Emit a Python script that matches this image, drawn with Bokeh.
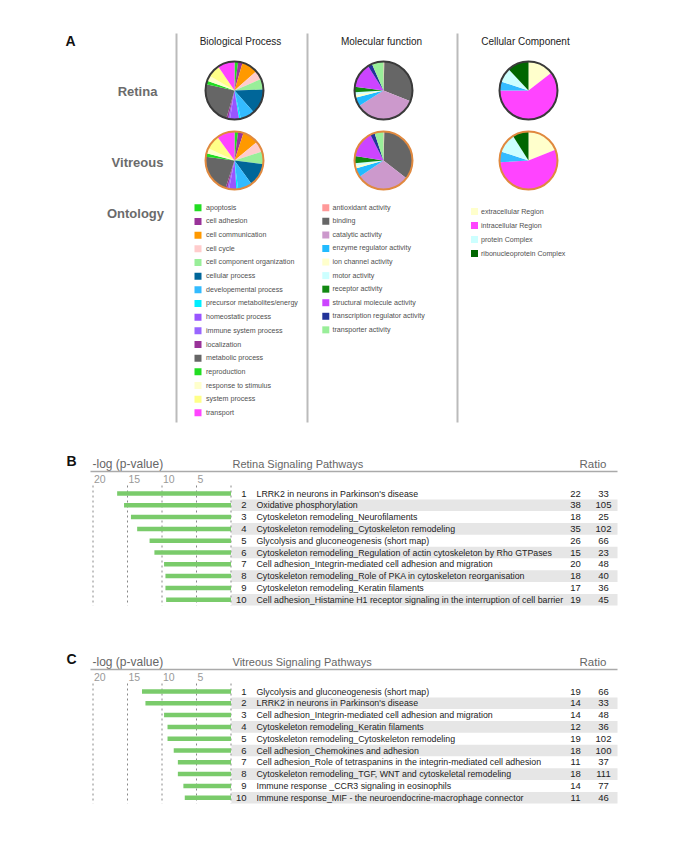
import numpy as np
from bokeh.plotting import figure
from bokeh.models import Range1d
from bokeh.embed import file_html
from bokeh.resources import INLINE
from bokeh.core.properties import value

# ---------------- data ----------------
bp_labels = ["apoptosis", "cell adhesion", "cell communication", "cell cycle",
             "cell component organization", "cellular process", "developemental process",
             "precursor metabolites/energy", "homeostatic process", "immune system process",
             "localization", "metabolic process", "reproduction", "response to stimulus",
             "system process", "transport"]
bp_colors = ["#22dd22", "#993399", "#ff9900", "#ffcccc", "#99ee99", "#006699", "#33bbff",
             "#00eeff", "#9955ff", "#9966ff", "#993399", "#666666", "#22dd22", "#ffffcc",
             "#ffff88", "#ff44ff"]
bp_retina = [2, 2.5, 9, 5, 6, 14, 8, 1, 5, 1, 1, 24, 2, 3, 7, 9.5]
bp_vitreous = [2, 3, 9, 6, 7, 13, 8, 1, 4, 1, 1, 22, 2, 3, 8, 10]

mf_labels = ["antioxidant activity", "binding", "catalytic activity", "enzyme regulator activity",
             "ion channel activity", "motor activity", "receptor activity",
             "structural molecule activity", "transcription regulator activity",
             "transporter activity"]
mf_colors = ["#ff9999", "#666666", "#cc99cc", "#22bbff", "#ffffcc", "#ccffff", "#118811",
             "#cc44ff", "#223399", "#99ee99"]
mf_retina = [0.5, 30.5, 35, 5, 1.5, 1.5, 3, 14, 2.5, 6.5]
mf_vitreous = [0.5, 35, 30, 5, 1.5, 1.5, 4, 15, 2.5, 5]

cc_labels = ["extracellular Region", "intracellular Region", "protein Complex",
             "ribonucleoprotein Complex"]
cc_colors = ["#ffffcc", "#ff44ff", "#ccffff", "#006600"]
cc_slice_colors = ["#ffffcc", "#ff44ff", "#33bbff", "#ccffff", "#006600"]
cc_retina = [14.5, 60.5, 5, 8, 12]
cc_vitreous = [19, 55, 6, 11, 9]

ticks = [20, 15, 10, 5]

retina_paths = ["LRRK2 in neurons in Parkinson's disease",
                "Oxidative phosphorylation",
                "Cytoskeleton remodeling_Neurofilaments",
                "Cytoskeleton remodeling_Cytoskeleton remodeling",
                "Glycolysis and gluconeogenesis (short map)",
                "Cytoskeleton remodeling_Regulation of actin cytoskeleton by Rho GTPases",
                "Cell adhesion_Integrin-mediated cell adhesion and migration",
                "Cytoskeleton remodeling_Role of PKA in cytoskeleton reorganisation",
                "Cytoskeleton remodeling_Keratin filaments",
                "Cell adhesion_Histamine H1 receptor signaling in the interruption of cell barrier"]
retina_logp = [16.5, 15.5, 14.5, 13.6, 11.8, 11.1, 9.7, 9.5, 9.5, 9.4]
retina_r1 = [22, 38, 18, 35, 26, 15, 20, 18, 17, 19]
retina_r2 = [33, 105, 25, 102, 66, 23, 48, 40, 36, 45]

vitreous_paths = ["Glycolysis and gluconeogenesis (short map)",
                  "LRRK2 in neurons in Parkinson's disease",
                  "Cell adhesion_Integrin-mediated cell adhesion and migration",
                  "Cytoskeleton remodeling_Keratin filaments",
                  "Cytoskeleton remodeling_Cytoskeleton remodeling",
                  "Cell adhesion_Chemokines and adhesion",
                  "Cell adhesion_Role of tetraspanins in the integrin-mediated cell adhesion",
                  "Cytoskeleton remodeling_TGF, WNT and cytoskeletal remodeling",
                  "Immune response _CCR3 signaling in eosinophils",
                  "Immune response_MIF - the neuroendocrine-macrophage connector"]
vitreous_logp = [12.9, 12.4, 9.7, 9.2, 9.2, 8.3, 7.7, 7.7, 6.9, 6.7]
vitreous_r1 = [19, 14, 14, 12, 19, 18, 11, 18, 14, 11]
vitreous_r2 = [66, 33, 48, 36, 102, 100, 37, 111, 77, 46]

# ---------------- canvas ----------------
W, H = 667, 850
OX, OY = 0, 0
FONT = "Liberation Sans"
F = value(FONT)

# -log p scale: 20 -> x 92.5, 0 -> x 230.5
X0, PXU = 230.5, 6.9
p_range = Range1d(start=(X0 - OX) / PXU, end=(X0 - (OX + W)) / PXU)

p = figure(width=W, height=H, x_range=Range1d(OX, OX + W), y_range=Range1d(OY + H, OY),
           output_backend="svg", toolbar_location=None, min_border=0,
           x_axis_location=None, y_axis_location=None)
p.extra_x_ranges = {"logp": p_range}
p.grid.visible = False
p.outline_line_color = None
p.background_fill_color = "white"


def txt(x, y, s, size, color="#222222", align="left", style="normal", font=F, **kw):
    p.text(x=x if isinstance(x, list) else [x], y=y if isinstance(y, list) else [y],
           text=s if isinstance(s, list) else [s], text_font=font, text_font_size=size,
           text_color=color, text_align=align, text_baseline="middle",
           text_font_style=style, **kw)


# ---------------- panel A ----------------
txt(70, 40, "A", "14px", "#111111", "center", "bold")
for xl in [176, 307, 457]:
    p.segment(x0=[xl], y0=[33], x1=[xl], y1=[422], line_color="#bbbbbb", line_width=2)

txt([240, 381, 525], [41, 41, 41],
    ["Biological Process", "Molecular function", "Cellular Component"], "10px", "#222222", "center")
txt([137, 137, 135], [91, 162, 213], ["Retina", "Vitreous", "Ontology"], "13px", "#6b6b6b",
    "center", "bold")

R = 29


def pie(cx, cy, vals, colors, outline):
    v = np.array(vals, float)
    frac = np.cumsum(v) / v.sum()
    ends = np.pi / 2 - 2 * np.pi * frac
    starts = np.concatenate([[np.pi / 2], ends[:-1]])
    p.wedge(x=cx, y=cy, radius=R, start_angle=starts, end_angle=ends, direction="clock",
            fill_color=colors, line_color=None)
    p.circle(x=[cx], y=[cy], radius=R, fill_color=None, line_color=outline, line_width=2)


RET_OUT, VIT_OUT = "#3a3a3a", "#e0893f"
pie(234, 90, bp_retina, bp_colors, RET_OUT)
pie(234, 160, bp_vitreous, bp_colors, VIT_OUT)
pie(383, 90, mf_retina, mf_colors, RET_OUT)
pie(383, 160, mf_vitreous, mf_colors, VIT_OUT)
pie(528, 90, cc_retina, cc_slice_colors, RET_OUT)
pie(528, 160, cc_vitreous, cc_slice_colors, VIT_OUT)


def legend(sqx, tx, y0, dy, labels, colors):
    ys = [y0 + i * dy for i in range(len(labels))]
    p.rect(x=[sqx] * len(labels), y=ys, width=7, height=7, fill_color=colors, line_color=None)
    txt([tx] * len(labels), ys, labels, "7.1px", "#505050")


legend(197.5, 205.5, 207.3, 13.67, bp_labels, bp_colors)
legend(325.3, 332.0, 207.3, 13.56, mf_labels, mf_colors)
legend(474.0, 480.5, 211.0, 14.0, cc_labels, cc_colors)


# ---------------- panels B and C ----------------
def panel(top, letter, title, names, logp, r1, r2):
    row0, rh = top + 30, 11.8
    ys = [row0 + i * rh for i in range(len(names))]
    txt(71, top - 3, letter, "14px", "#111111", "center", "bold")
    txt(92, top, "-log (p-value)", "12px", "#666666")
    txt(232, top, title, "11px", "#666666")
    txt(579, top, "Ratio", "11.5px", "#666666")
    p.segment(x0=[90], y0=[top + 8], x1=[617], y1=[top + 8], line_color="#aaaaaa", line_width=1.5)
    txt(ticks, [top + 15] * len(ticks), [str(t) for t in ticks], "10.5px", "#999999",
        x_range_name="logp", x_offset=1)
    even = [y for i, y in enumerate(ys) if i % 2 == 1]
    p.hbar(y=even, left=231, right=617, height=11.6, fill_color="#e6e6e6", line_color=None)
    gl = ticks + [0]
    p.segment(x0=gl, y0=[top + 22] * len(gl), x1=gl, y1=[ys[-1] + 6] * len(gl),
              line_color="#888888", line_width=1, line_dash="2 3", x_range_name="logp")
    p.hbar(y=ys, left=logp, right=0, height=4.5, fill_color="#7acb6b", line_color=None,
           x_range_name="logp")
    txt([246] * len(ys), ys, [str(i + 1) for i in range(len(ys))], "9.5px", "#222222", "right")
    txt([256] * len(ys), ys, names, "8.8px", "#222222")
    txt([575] * len(ys), ys, [str(v) for v in r1], "9.5px", "#222222", "center")
    txt([603] * len(ys), ys, [str(v) for v in r2], "9.5px", "#222222", "center")


panel(463, "B", "Retina Signaling Pathways", retina_paths, retina_logp, retina_r1, retina_r2)
panel(661, "C", "Vitreous Signaling Pathways", vitreous_paths, vitreous_logp, vitreous_r1, vitreous_r2)

open("out.html", "w").write(file_html(p, INLINE))
